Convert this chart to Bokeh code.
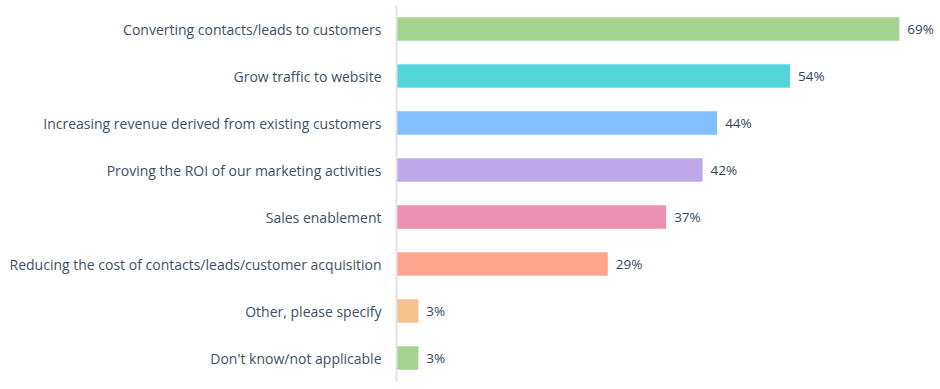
from bokeh.plotting import figure
from bokeh.models import ColumnDataSource, FactorRange, Range1d
from bokeh.core.properties import value
from bokeh.embed import file_html
from bokeh.resources import INLINE

categories = [
    "Converting contacts/leads to customers",
    "Grow traffic to website",
    "Increasing revenue derived from existing customers",
    "Proving the ROI of our marketing activities",
    "Sales enablement",
    "Reducing the cost of contacts/leads/customer acquisition",
    "Other, please specify",
    "Don't know/not applicable",
]
values = [69, 54, 44, 42, 37, 29, 3, 3]
colors = ["#a3d48f", "#54d4db", "#82c0ff", "#bea8e9", "#ea90b1", "#fea58e", "#f5c28e", "#a3d48f"]
labels = [f"{v}%" for v in values]

src = ColumnDataSource(dict(cat=categories, val=values, color=colors, label=labels))

p = figure(
    width=936, height=385,
    y_range=FactorRange(factors=list(reversed(categories))),
    x_range=Range1d(0, 74.1),
    output_backend="svg", toolbar_location=None,
    min_border_left=396, min_border_right=0, min_border_top=5, min_border_bottom=4,
)
p.hbar(y="cat", right="val", left=0, height=0.5, color="color", line_color=None, source=src)
p.text(x="val", y="cat", text="label", source=src, x_offset=8,
       text_baseline="middle", text_align="left", text_font=value("Open Sans"),
       text_font_size="13.5px", text_color="#33475b")

p.xaxis.visible = False
p.xgrid.grid_line_color = None
p.ygrid.grid_line_color = None
p.outline_line_color = None

ax = p.yaxis[0]
ax.axis_line_color = "#dfe3eb"
ax.axis_line_width = 2
ax.major_tick_line_color = None
ax.minor_tick_line_color = None
ax.major_tick_out = 0
ax.major_tick_in = 0
ax.major_label_standoff = 15
ax.major_label_text_font = "Open Sans"
ax.major_label_text_font_size = "14px"
ax.major_label_text_color = "#3d5166"

open("out.html", "w").write(file_html(p, INLINE))
